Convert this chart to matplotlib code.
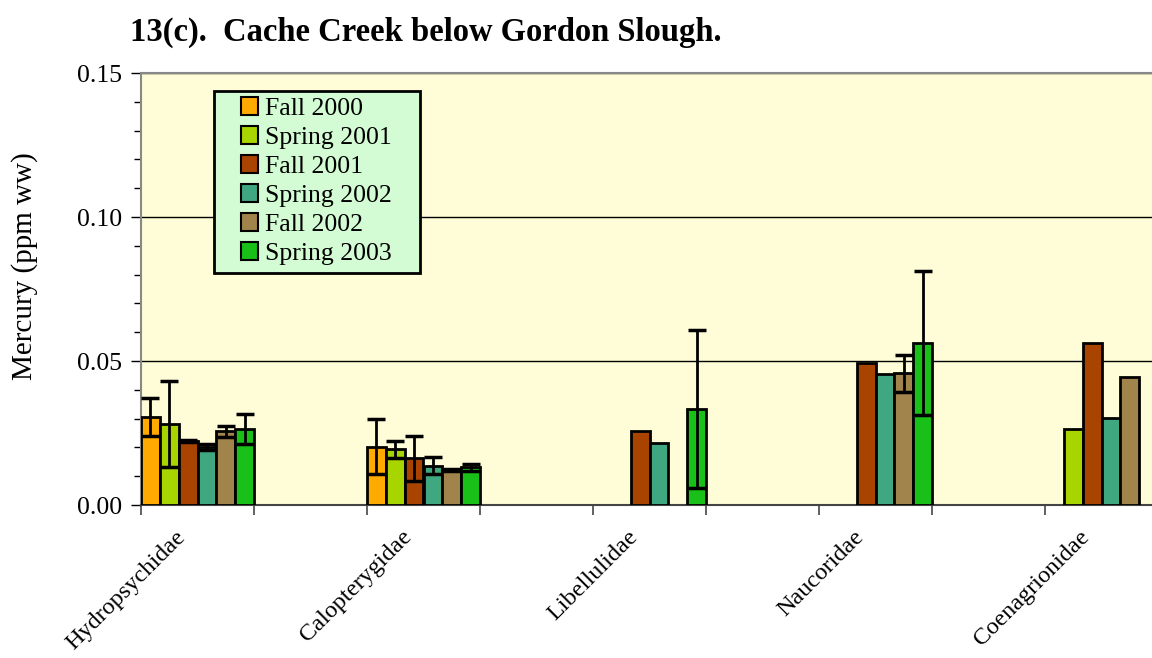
import numpy as np
import matplotlib
matplotlib.use("Agg")
import matplotlib.pyplot as plt
from matplotlib.patches import Patch, Rectangle
from matplotlib.ticker import MultipleLocator, FormatStrFormatter

plt.rcParams['font.family'] = ['Liberation Serif', 'DejaVu Serif']

# mean mercury (ppm ww) per taxon and sampling season, with standard deviations
taxa = ['Hydropsychidae', 'Calopterygidae', 'Libellulidae', 'Naucoridae', 'Coenagrionidae']
seasons = ['Fall 2000', 'Spring 2001', 'Fall 2001', 'Spring 2002', 'Fall 2002', 'Spring 2003']
colors = ['#FFAA00', '#A8D400', '#A84400', '#40A880', '#A0844C', '#18C018']

nan = np.nan
means = {
    'Hydropsychidae': [0.0307, 0.0281, 0.0222, 0.0202, 0.0256, 0.0264],
    'Calopterygidae': [0.0203, 0.0193, 0.0162, 0.0137, 0.0122, 0.0131],
    'Libellulidae':   [nan, nan, 0.0258, 0.0214, nan, 0.0333],
    'Naucoridae':     [nan, nan, 0.0492, 0.0455, 0.0457, 0.0561],
    'Coenagrionidae': [nan, 0.0263, 0.0564, 0.0303, 0.0446, nan],
}
sds = {
    'Hydropsychidae': [0.0066, 0.0148, 0.0004, 0.0010, 0.0019, 0.0053],
    'Calopterygidae': [0.0095, 0.0029, 0.0077, 0.0030, 0.0004, 0.0012],
    'Libellulidae':   [nan, nan, nan, nan, nan, 0.0274],
    'Naucoridae':     [nan, nan, nan, nan, 0.0064, 0.0250],
    'Coenagrionidae': [nan, nan, nan, nan, nan, nan],
}

fig = plt.figure(figsize=(11.52, 6.58), dpi=100)
# axes run off the right edge of the figure
ax = fig.add_axes([141/1152, 1 - 505/658, 1130/1152, 432/658])
ax.set_facecolor('#FEFDD8')

n = len(seasons)
w = 1.0 / n
for i, t in enumerate(taxa):
    c = 2 * i  # every other category slot is left empty
    for j in range(n):
        m = means[t][j]
        if np.isnan(m):
            continue
        x = c - 0.5 + (j + 0.5) * w
        ax.bar(x, m, width=w, color=colors[j], edgecolor='black', linewidth=2, zorder=3)
        s = sds[t][j]
        if not np.isnan(s):
            ax.errorbar(x, m, yerr=s, fmt='none', ecolor='black', elinewidth=2,
                        capsize=6.5, capthick=2.5, zorder=4)

ax.set_xlim(-0.5, 9.5)
ax.set_ylim(0, 0.15)
ax.yaxis.set_major_locator(MultipleLocator(0.05))
ax.yaxis.set_minor_locator(MultipleLocator(0.01))
ax.yaxis.set_major_formatter(FormatStrFormatter('%.2f'))
ax.grid(axis='y', which='major', color='black', linewidth=1, zorder=1)
ax.set_axisbelow(True)

ax.set_xticks(np.arange(-0.5, 10, 1.0))
ax.set_xticklabels([])
ax.tick_params(axis='x', direction='out', length=7, width=1.3, color='#555555')
ax.tick_params(axis='y', which='major', direction='out', length=7, width=1, labelsize=18.5, pad=6.5)
ax.tick_params(axis='y', which='minor', direction='out', length=5, width=1)

for side in ['top', 'left']:
    ax.spines[side].set_color('#888888')
    ax.spines[side].set_linewidth(1.5)
ax.spines['bottom'].set_color('#444444')
ax.spines['bottom'].set_linewidth(1.5)
ax.spines['right'].set_visible(False)

# rotated taxon names under every other category
for i, t in enumerate(taxa):
    ax.text(2 * i - 0.07, -0.0075, t, rotation=45, ha='right', va='top',
            fontsize=17.5, transform=ax.transData, clip_on=False)

ax.set_ylabel('Mercury (ppm ww)', fontsize=21)
ax.yaxis.set_label_coords(-0.091, 0.553)

# legend: green box with the entries laid on top
ax.add_patch(Rectangle((0.0646, 0.537), 0.1823, 0.4213, transform=ax.transAxes,
                       facecolor='#D4FCD4', edgecolor='black', linewidth=2, zorder=5))
handles = [Patch(facecolor=colors[j], edgecolor='black', linewidth=1.5) for j in range(n)]
leg = ax.legend(handles, seasons, loc='upper left', bbox_to_anchor=(0.0885, 0.944),
                borderaxespad=0, borderpad=0, fontsize=18.5, frameon=False,
                handlelength=0.68, handleheight=0.68, handletextpad=0.27,
                labelspacing=0.24)
leg.set_zorder(6)

fig.text(130/1152, 1 - 32/658, '13(c).  Cache Creek below Gordon Slough.',
         fontsize=23.5, fontweight='bold', va='center', ha='left')

fig.savefig('out.png', dpi=100)
